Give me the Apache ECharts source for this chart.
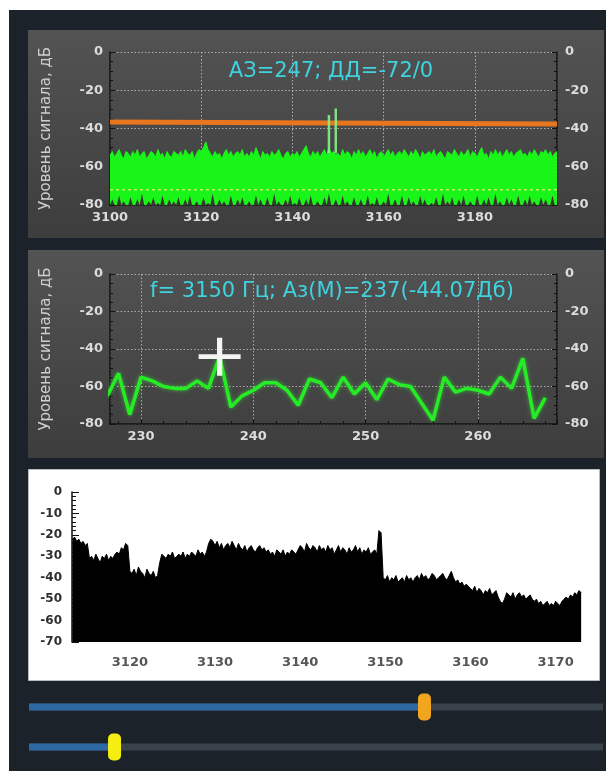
<!DOCTYPE html>
<html>
<head>
<meta charset="utf-8">
<script src="https://cdn.jsdelivr.net/npm/echarts@6/dist/echarts.min.js"></script>
<style>
  html, body { margin: 0; padding: 0; background: #1b222a; }
  #chart { width: 606px; height: 771px; }
</style>
</head>
<body>
<div id="chart"></div>
<script>
// ---------- Top panel: panorama scan, peak / floor envelopes (0.5 Hz step) ----------
const scanStart = 3100;
const scanStep = 0.5;
const scanPeak = [
  -54,-52,-55,-53,-51,-54,-56,-52,-53,-55,
  -52,-54,-51,-55,-53,-52,-56,-54,-52,-53,
  -55,-51,-54,-53,-56,-52,-54,-55,-52,-53,
  -54,-52,-55,-51,-53,-54,-52,-56,-53,-51,
  -52,-50,-47,-51,-53,-55,-52,-54,-53,-56,
  -53,-51,-54,-52,-55,-53,-52,-54,-51,-55,
  -53,-55,-52,-54,-50,-53,-56,-52,-54,-53,
  -55,-52,-54,-53,-51,-54,-56,-53,-52,-55,
  -53,-54,-52,-55,-53,-51,-49,-53,-55,-52,
  -54,-52,-55,-53,-51,-54,-50,-53,-52,-54,
  -53,-55,-51,-54,-52,-53,-56,-52,-54,-51,
  -54,-52,-55,-53,-51,-54,-52,-56,-53,-52,
  -55,-53,-51,-54,-52,-55,-53,-52,-54,-51,
  -53,-55,-52,-54,-51,-53,-56,-52,-54,-53,
  -52,-54,-51,-55,-53,-52,-54,-56,-52,-53,
  -54,-51,-53,-55,-52,-54,-53,-51,-55,-52,
  -53,-55,-52,-50,-54,-53,-56,-52,-54,-51,
  -54,-52,-55,-53,-51,-54,-52,-55,-53,-52,
  -51,-54,-53,-55,-52,-54,-51,-53,-55,-52,
  -53,-51,-54,-52,-55,-53,-52
];
const scanFloor = [
  -80,-77,-80,-80,-75,-80,-78,-80,-80,-76,
  -80,-80,-77,-80,-74,-80,-80,-78,-80,-76,
  -80,-79,-80,-75,-80,-80,-77,-80,-78,-80,
  -76,-80,-80,-77,-80,-75,-80,-80,-78,-80,
  -80,-76,-80,-79,-80,-74,-80,-80,-77,-80,
  -78,-80,-80,-75,-80,-80,-77,-80,-76,-80,
  -80,-78,-80,-80,-75,-80,-77,-80,-80,-76,
  -80,-80,-74,-80,-78,-80,-80,-77,-80,-75,
  -80,-79,-80,-76,-80,-80,-77,-80,-75,-80,
  -80,-78,-80,-80,-76,-80,-74,-80,-80,-77,
  -80,-80,-75,-80,-78,-80,-80,-76,-80,-80,
  -77,-80,-80,-75,-80,-79,-80,-76,-80,-80,
  -78,-80,-74,-80,-80,-77,-80,-80,-75,-80,
  -80,-76,-80,-78,-80,-80,-75,-80,-77,-80,
  -80,-79,-80,-76,-80,-80,-74,-80,-78,-80,
  -76,-80,-80,-77,-80,-75,-80,-80,-78,-80,
  -80,-75,-80,-80,-77,-80,-76,-80,-80,-74,
  -80,-78,-80,-80,-76,-80,-77,-80,-80,-75,
  -80,-80,-77,-80,-75,-80,-78,-80,-80,-76,
  -80,-77,-80,-80,-75,-80,-80
];
const scanRange = [3100, 3198];
// narrow carrier lines
const spikeFreq = [3148, 3149.5];
const spikeLevel = [-33, -29.5];
const spikeBase = [-53, -53];
// detection threshold, start and end of the band
const thresholdLevel = [-36.6, -37.6];
const azimuth = 247;
const dynRange = [-72, 0];

// ---------- Middle panel: level versus azimuth ----------
const azBins = [
  227,228,229,230,231,232,233,234,235,236,
  237,238,239,240,241,242,243,244,245,246,
  247,248,249,250,251,252,253,254,255,256,
  257,258,259,260,261,262,263,264,265,266
];
const azLevel = [
  -65,-53,-75,-55,-57,-60,-61,-61,-57,-61,
  -44.07,-71,-65,-62,-58,-58,-62,-70,-56,-58,
  -66,-55,-64,-58,-67,-56,-59,-60,-69,-78,
  -55,-63,-61,-62,-64,-55,-61,-45,-77,-66
];
const azRange = [227.24, 267.04];
const markerFreq = 3150;
const markerAz = 237;
const markerLevel = -44.07;

// ---------- Bottom panel: averaged spectrum (0.25 Hz step) ----------
const avgStart = 3113.25;
const avgStep = 0.25;
const avgLevel = [
  -22,-21,-23,-22,-24,-23,-25,-24,
  -31,
  -30,-32,-29,-31,-33,-30,-31,-29,-32,-30,-31,-29,
  -28,-29,-26,-27,-24,-25,
  -37,
  -38,-36,-39,-35,-37,-38,-40,-36,-38,-39,-37,-40,-39,
  -33,
  -29,-30,-31,-29,-30,-28,-31,-30,-29,-30,-28,-31,-29,-30,-28,-29,-30,-27,-29,-28,-30,-28,
  -24,-22,-23,
  -25,-23,-26,-24,-27,-25,-24,-26,-23,-25,-27,-24,
  -26,-27,-25,-28,-26,-25,-27,-28,-26,-25,-27,-26,
  -28,-27,-29,-28,-30,-27,-28,-29,-27,-30,-28,-29,-27,-28,-29,
  -27,-25,-26,-28,-24,-26,-27,-25,-26,-28,-25,-27,
  -26,-28,-25,-27,-26,-29,-27,-25,-28,-26,-27,-29,-26,-28,-27,-25,-28,-26,-29,-27,-28,-26,-29,-28,-27,-29,
  -18,-19,-40,
  -41,-39,-42,-40,-41,-39,-42,-41,-40,-42,-39,-41,-40,-42,
  -40,-39,-41,-38,-40,-39,-41,-40,-38,-39,-41,-40,-39,-38,-40,-41,-39,-37,
  -40,-42,-41,-43,-42,-44,-43,
  -44,-45,-46,-44,-47,-45,-46,-48,-46,-47,-45,-48,-47,-46,
  -49,-51,-52,-50,
  -47,-48,-49,-47,-50,-48,-47,-49,-48,-50,-49,-48,-50,
  -51,-50,-52,-51,-53,-52,-51,-53,-52,-53,-51,-52,-53,
  -51,-50,-49,-50,-48,-49,-47,-48,-46,-47
];
const avgRange = [3113.2, 3173.1];

// ---------- Sliders (fraction of track filled) ----------
const sliderPos = [0.689, 0.149];
const sliderColors = ['#f2a51e', '#f4ee12'];

// ---------- helpers ----------
const FONT = '"DejaVu Sans", Verdana, sans-serif';
const pairs = (start, step, vals) => vals.map((v, i) => [start + i * step, v]);
// plain integers only; fractional extent ticks stay unlabeled
const tickText = (step) => (v) => (Math.abs(v / step - Math.round(v / step)) < 1e-6 ? String(Math.round(v)) : '');

const dotted = { color: 'rgba(190,190,190,0.85)', type: [1.5, 2], width: 1 };
const black = '#111';

function darkX(gridIndex, min, max, step, extra) {
  return Object.assign({
    type: 'value', gridIndex: gridIndex, min: min, max: max,
    axisLine: { show: true, onZero: false, lineStyle: { color: black, width: 1.5 } },
    axisTick: { show: true, inside: true, length: 5, lineStyle: { color: black } },
    minorTick: { show: true, splitNumber: 5, length: 3, lineStyle: { color: black } },
    axisLabel: { color: '#dcdcdc', fontSize: 13, fontWeight: 'bold', fontFamily: FONT, margin: 6,
                 showMaxLabel: false, formatter: tickText(step) },
    splitLine: { show: true, lineStyle: dotted }
  }, extra);
}
function darkY(gridIndex, side) {
  const left = side === 'left';
  return {
    type: 'value', gridIndex: gridIndex, position: side, min: -80, max: 0, interval: 20,
    name: left ? 'Уровень сигнала, дБ' : '', nameLocation: 'middle', nameGap: 56,
    nameTextStyle: { color: '#cfcfcf', fontSize: 15, fontFamily: FONT },
    axisLine: { show: true, onZero: false, lineStyle: { color: black, width: 1.5 } },
    axisTick: { show: true, inside: true, length: 5, lineStyle: { color: black } },
    minorTick: { show: true, splitNumber: 4, length: 3, lineStyle: { color: black } },
    axisLabel: { color: '#dcdcdc', fontSize: 13, fontWeight: 'bold', fontFamily: FONT, margin: left ? 7 : 8 },
    splitLine: { show: left, lineStyle: dotted }
  };
}

const panelFill = {
  type: 'linear', x: 0, y: 0, x2: 0, y2: 1,
  colorStops: [{ offset: 0, color: '#535353' }, { offset: 1, color: '#3d3d3d' }]
};

// spikes as vertical strokes separated by gaps
const spikeData = [];
spikeFreq.forEach((f, i) => {
  spikeData.push([f, spikeBase[i]], [f, spikeLevel[i]], [f, null]);
});

const trackX0 = 29, trackX1 = 603, trackY = [707, 747];
const sliderGraphics = [];
sliderPos.forEach((p, i) => {
  const xPos = trackX0 + p * (trackX1 - trackX0);
  sliderGraphics.push(
    { type: 'rect', z: 10, shape: { x: trackX0, y: trackY[i] - 3.5, width: trackX1 - trackX0, height: 7 }, style: { fill: '#3a424b' } },
    { type: 'rect', z: 11, shape: { x: trackX0, y: trackY[i] - 3.5, width: xPos - trackX0, height: 7 }, style: { fill: '#2c68a3' } },
    { type: 'rect', z: 12, shape: { x: xPos - 6.5, y: trackY[i] - 13.5, width: 13, height: 27, r: 5 }, style: { fill: sliderColors[i] } }
  );
});

const chart = echarts.init(document.getElementById('chart'), null, { renderer: 'canvas' });

chart.setOption({
  backgroundColor: '#1b222a',
  animation: false,
  graphic: [
    { type: 'rect', z: -20, shape: { x: 0, y: 0, width: 606, height: 10 }, style: { fill: '#ffffff' } },
    { type: 'rect', z: -20, shape: { x: 0, y: 0, width: 9, height: 771 }, style: { fill: '#ffffff' } },
    { type: 'rect', z: -10, shape: { x: 28, y: 30, width: 576, height: 208 }, style: { fill: panelFill } },
    { type: 'rect', z: -10, shape: { x: 28, y: 250, width: 576, height: 208 }, style: { fill: panelFill } },
    { type: 'rect', z: -10, shape: { x: 28.5, y: 469.5, width: 571, height: 211 }, style: { fill: '#ffffff', stroke: '#b8bcc0', lineWidth: 1 } },
    { type: 'text', z: 20, x: 331, y: 72,
      style: { text: 'АЗ=' + azimuth + '; ДД=' + dynRange[0] + '/' + dynRange[1],
               fill: '#3fd2df', font: '21px ' + FONT, textAlign: 'center', textVerticalAlign: 'middle', align: 'center', verticalAlign: 'middle' } },
    { type: 'text', z: 20, x: 332, y: 292,
      style: { text: 'f= ' + markerFreq + ' Гц; Аз(М)=' + markerAz + '(' + markerLevel.toFixed(2) + 'Дб)',
               fill: '#3fd2df', font: '21px ' + FONT, textAlign: 'center', textVerticalAlign: 'middle', align: 'center', verticalAlign: 'middle' } }
  ].concat(sliderGraphics),
  grid: [
    { left: 110, top: 52, width: 447, height: 153 },
    { left: 110, top: 274, width: 447, height: 150 },
    { left: 72, top: 492, width: 510, height: 150 }
  ],
  xAxis: [
    darkX(0, scanRange[0], scanRange[1], 20, { interval: 20 }),
    darkX(1, azRange[0], azRange[1], 10, { splitNumber: 4 }),
    {
      type: 'value', gridIndex: 2, min: avgRange[0], max: avgRange[1], splitNumber: 6,
      axisLine: { show: false }, axisTick: { show: false },
      axisLabel: { color: '#555', fontSize: 13, fontWeight: 'bold', fontFamily: FONT, margin: 14,
                   formatter: tickText(10) },
      splitLine: { show: false }
    }
  ],
  yAxis: [
    darkY(0, 'left'), darkY(0, 'right'),
    darkY(1, 'left'), darkY(1, 'right'),
    {
      type: 'value', gridIndex: 2, min: -70, max: 0, interval: 10,
      axisLine: { show: true, onZero: false, lineStyle: { color: black, width: 1.5 } },
      axisTick: { show: true, inside: true, length: 7, lineStyle: { color: black } },
      minorTick: { show: true, splitNumber: 5, length: 4, lineStyle: { color: black } },
      axisLabel: { color: '#2e2e2e', fontSize: 12, fontWeight: 'bold', fontFamily: FONT, margin: 10 },
      splitLine: { show: false }
    }
  ],
  series: [
    {
      name: 'peak', type: 'line', xAxisIndex: 0, yAxisIndex: 0, z: 2,
      data: pairs(scanStart, scanStep, scanPeak), symbol: 'none',
      lineStyle: { color: '#19f519', width: 1 },
      areaStyle: { color: '#19f519', opacity: 1, origin: 'start' }
    },
    {
      name: 'floor', type: 'line', xAxisIndex: 0, yAxisIndex: 0, z: 3,
      data: pairs(scanStart, scanStep, scanFloor), symbol: 'none',
      lineStyle: { width: 0 },
      areaStyle: { color: '#333a2d', opacity: 1, origin: 'start' }
    },
    {
      name: 'range', type: 'line', xAxisIndex: 0, yAxisIndex: 0, z: 4,
      data: [[scanRange[0], dynRange[0]], [scanRange[1], dynRange[0]]], symbol: 'none',
      lineStyle: { color: '#ddf26e', width: 1.5, type: [3, 3], opacity: 0.85 }
    },
    {
      name: 'threshold', type: 'line', xAxisIndex: 0, yAxisIndex: 0, z: 5,
      data: [[scanRange[0], thresholdLevel[0]], [scanRange[1], thresholdLevel[1]]], symbol: 'none',
      lineStyle: { color: '#e8761f', width: 5 }
    },
    {
      name: 'carriers', type: 'line', xAxisIndex: 0, yAxisIndex: 0, z: 6,
      data: spikeData, symbol: 'none', connectNulls: false,
      lineStyle: { color: '#86f286', width: 2.5, opacity: 0.9 }
    },
    {
      name: 'azimuth', type: 'line', xAxisIndex: 1, yAxisIndex: 2, z: 3,
      data: azBins.map((a, i) => [a, azLevel[i]]), symbol: 'none',
      lineStyle: { color: '#25ec25', width: 3.5, shadowColor: 'rgba(60,255,60,0.55)', shadowBlur: 4 }
    },
    {
      name: 'marker', type: 'scatter', xAxisIndex: 1, yAxisIndex: 2, z: 8,
      data: [[markerAz, markerLevel]],
      symbol: 'path://M0,17.5L40,17.5L40,22.5L0,22.5Z M17.5,0L22.5,0L22.5,40L17.5,40Z',
      symbolSize: [42, 38],
      itemStyle: { color: '#f4f4f4', opacity: 1 }
    },
    {
      name: 'average', type: 'line', xAxisIndex: 2, yAxisIndex: 4, z: 2,
      data: pairs(avgStart, avgStep, avgLevel), symbol: 'none',
      lineStyle: { color: '#000', width: 1 },
      areaStyle: { color: '#000', opacity: 1, origin: 'start' }
    }
  ]
});
</script>
</body>
</html>
